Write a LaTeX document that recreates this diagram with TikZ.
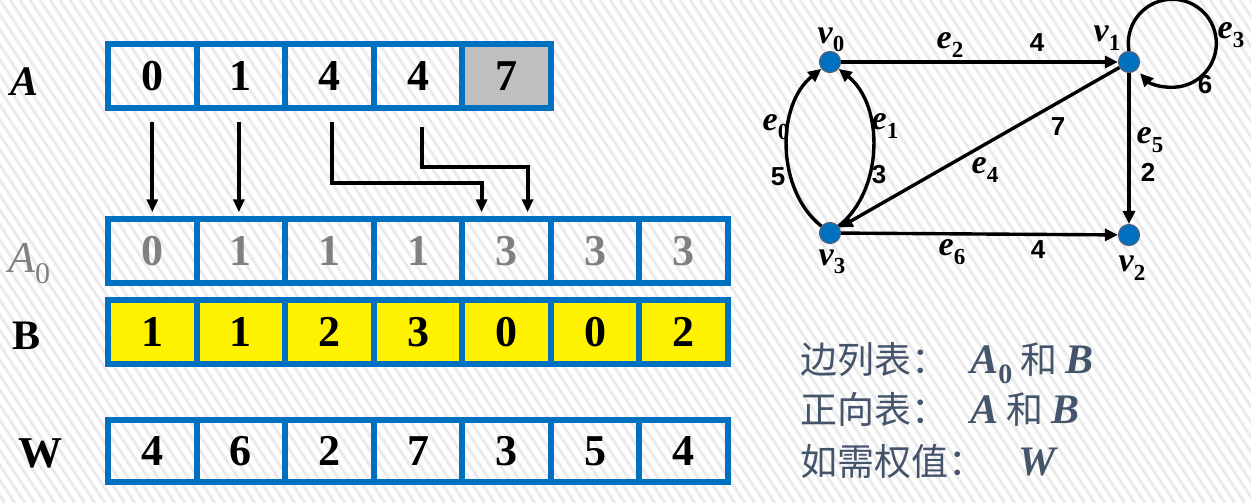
\documentclass[tikz,border=0pt]{standalone}
\usepackage{fontspec}
\setmainfont{Liberation Serif}
\newfontfamily\cjkfont{Noto Sans CJK SC}
\newfontfamily\wsans{Liberation Sans}
\usetikzlibrary{arrows.meta,calc}
\definecolor{frameblue}{RGB}{0,112,192}
\definecolor{txtgray}{RGB}{128,128,128}
\definecolor{slate}{RGB}{68,84,106}
\definecolor{cellgray}{RGB}{191,191,191}
\definecolor{stripecol}{RGB}{235,235,235}
\definecolor{vfill}{RGB}{0,112,192}
\definecolor{vline}{RGB}{80,100,125}
\newcommand\subs[2]{\raisebox{-0.25em}{\upshape\fontsize{#1}{#1}\selectfont #2}}
\begin{document}
\begin{tikzpicture}[x=1pt,y=-1pt,
  cell/.style={draw=frameblue,line width=6pt,minimum width=88.57pt,minimum height=64pt,
    inner sep=0pt,outer sep=0pt,font=\fontsize{44}{44}\selectfont\bfseries},
  graycell/.style={cell,text=txtgray},
  yelcell/.style={cell,fill=yellow},
  arr/.style={line width=4pt,-{Triangle[width=11pt,length=13pt]}},
  vert/.style={circle,fill=vfill,draw=vline,line width=1.2pt,minimum size=21pt,inner sep=0pt},
  edge/.style={line width=3.4pt,-{Triangle[width=12pt,length=13pt]}},
  elab/.style={font=\fontsize{34}{34}\selectfont\bfseries\itshape,inner sep=0pt},
  wlab/.style={font=\wsans\fontsize{26}{26}\selectfont\bfseries,inner sep=0pt},
  side/.style={font=\fontsize{42}{42}\selectfont\bfseries,inner sep=0pt},
  cnline/.style={anchor=base west,inner sep=0pt,text=slate,font=\cjkfont\fontsize{37}{37}\selectfont},
  latin/.style={font=\rmfamily\bfseries\itshape\fontsize{42}{42}\selectfont},
]
\useasboundingbox (0,0) rectangle (1251,503);
\fill[white] (0,0) rectangle (1251,503);
\begin{scope}
  \clip (0,0) rectangle (1251,503);
  \foreach \x in {-340,-330,...,1260} \draw[stripecol,line width=3pt] (\x,0) -- ++(335,503);
\end{scope}

% side labels
\node[side,font=\fontsize{42}{42}\selectfont\bfseries\itshape] (labA) at (25,82) {A};
\node[anchor=base west,inner sep=0pt,text=txtgray,font=\fontsize{44}{44}\selectfont\itshape] (labA0) at (8,272) {A\subs{30}{0}};
\node[side] (labB) at (27,336) {B};
\node[side,font=\fontsize{44}{44}\selectfont\bfseries] (labW) at (40,453) {W};

% array A
\foreach \v [count=\i from 0] in {0,1,4,4} \node[cell] (a\i) at (152.3+88.57*\i,76) {\v};
\node[cell,fill=cellgray] (a4) at (152.3+88.57*4,76) {7};

% array A0
\foreach \v [count=\i from 0] in {0,1,1,1,3,3,3} \node[graycell,minimum height=63.5pt] (z\i) at (152.3+88.57*\i,251) {\v};

% array B
\foreach \v [count=\i from 0] in {1,1,2,3,0,0,2} \node[yelcell] (b\i) at (152.3+88.57*\i,332) {\v};

% array W
\foreach \v [count=\i from 0] in {4,6,2,7,3,5,4} \node[cell,minimum height=62pt] (w\i) at (152.3+88.57*\i,451) {\v};

% arrows A -> A0
\draw[arr] ($(a0.south)+(0,14)$) -- ($(z0.north)+(0,-7)$);
\draw[arr] ($(a1.south)+(-2,14)$) -- ($(z1.north)+(-2,-7)$);
\draw[arr] ($(a2.south)+(2.5,14)$) -- ++(0,61) -| ($(z4.north)+(-25,-7)$);
\draw[arr] ($(a3.south)+(3.5,19)$) -- ++(0,40) -| ($(z4.north)+(21,-7)$);

% graph
\node[vert] (v0) at (830,62) {};
\node[vert] (v1) at (1129,62) {};
\node[vert] (v3) at (830,233) {};
\node[vert] (v2) at (1129,235) {};

\draw[edge] (v0) -- (v1);
\draw[edge] (v3) -- (v2);
\draw[edge] (v1) -- (v2);
\draw[edge] (v1) -- (v3);
\draw[edge] (v3) .. controls (776,190) and (776,105) .. (v0);
\draw[edge] (v3) .. controls (884,190) and (884,105) .. (v0);
\draw[edge] (v1.north) arc[start angle=170,end angle=497,radius=44];

\node[elab] (lv0) at (831,40) {v\subs{23}{0}};
\node[elab] (lv1) at (1107,38) {v\subs{23}{1}};
\node[elab] (lv3) at (832,262) {v\subs{23}{3}};
\node[elab] (lv2) at (1132,268) {v\subs{23}{2}};
\node[elab] (le2) at (950,45) {e\subs{23}{2}};
\node[wlab] (w2) at (1037,43) {4};
\node[elab] (le6) at (952,252) {e\subs{23}{6}};
\node[wlab] (w6) at (1038,250) {4};
\node[elab] (le5) at (1150,140) {e\subs{23}{5}};
\node[wlab] (w5) at (1148,172) {2};
\node[wlab] (w4) at (1058,127) {7};
\node[elab] (le4) at (985,170) {e\subs{23}{4}};
\node[elab] (le0) at (776,127) {e\subs{23}{0}};
\node[wlab] (w0) at (778,177) {5};
\node[elab] (le1) at (885,126) {e\subs{23}{1}};
\node[wlab] (w1) at (879,175) {3};
\node[elab] (le3) at (1231,35) {e\subs{23}{3}};
\node[wlab] (w3) at (1205,85) {6};

% text lines
\node[cnline] (t1) at (800,373) {边列表：\hspace{0.6em}{\rmfamily\bfseries\itshape\fontsize{42}{42}\selectfont A\subs{28}{0}} 和 {\rmfamily\bfseries\itshape\fontsize{42}{42}\selectfont B}};
\node[cnline] (t2) at (800,423) {正向表：\hspace{0.6em}{\rmfamily\bfseries\itshape\fontsize{42}{42}\selectfont A} 和 {\rmfamily\bfseries\itshape\fontsize{42}{42}\selectfont B}};
\node[cnline] (t3) at (800,475) {如需权值：\hspace{0.9em}{\rmfamily\bfseries\itshape\fontsize{42}{42}\selectfont W}};
\end{tikzpicture}
\end{document}
